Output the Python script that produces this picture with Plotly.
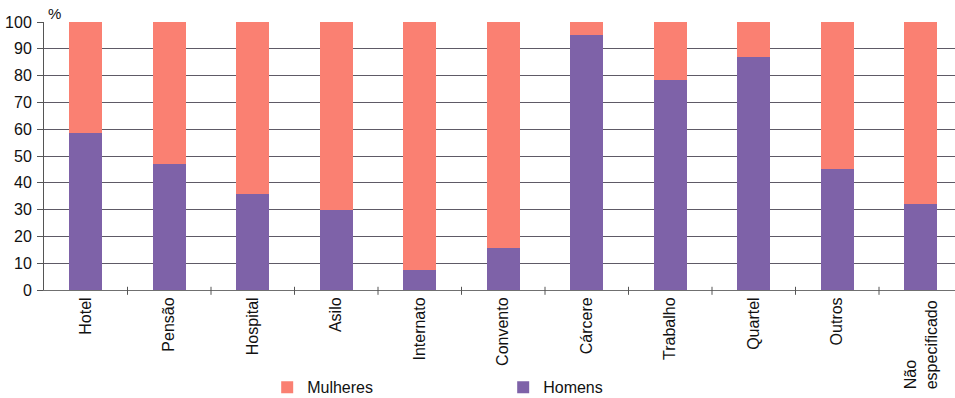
import plotly.graph_objects as go

# Categories and shares (%) of men and women by place of residence
categorias = ["Hotel", "Pensão", "Hospital", "Asilo", "Internato", "Convento",
              "Cárcere", "Trabalho", "Quartel", "Outros", "Não<br>especificado"]
homens = [58.5, 47, 36, 30, 7.5, 15.5, 95, 78.5, 87, 45, 32]
mulheres = [round(100 - h, 1) for h in homens]
y_ticks = [0, 10, 20, 30, 40, 50, 60, 70, 80, 90, 100]

COR_HOMENS = "#7E62A8"
COR_MULHERES = "#FA8072"
FONTE = "Arial, Liberation Sans, sans-serif"

fig = go.Figure()
fig.add_trace(go.Bar(x=list(range(len(categorias))), y=homens, name="Homens",
                     marker=dict(color=COR_HOMENS, line=dict(width=0)), width=0.39))
fig.add_trace(go.Bar(x=list(range(len(categorias))), y=mulheres, name="Mulheres",
                     marker=dict(color=COR_MULHERES, line=dict(width=0)), width=0.39))

# tick labels except the two-line one, which is drawn as an annotation
ticktext = [c if "<br>" not in c else "" for c in categorias]

fig.update_layout(
    barmode="stack",
    width=955, height=398,
    margin=dict(l=44, r=0, t=22, b=108),
    paper_bgcolor="white", plot_bgcolor="white",
    font=dict(family=FONTE, size=16, color="#111111"),
    showlegend=True,
    legend=dict(orientation="h", traceorder="reversed",
                x=0.245, xanchor="left", xref="paper",
                y=0.027, yanchor="middle", yref="container",
                entrywidth=191, font=dict(size=16), itemwidth=30),
    xaxis=dict(
        range=[-0.5, 10.41], automargin=False,
        tickmode="array", tickvals=list(range(len(categorias))), ticktext=ticktext,
        tickangle=-90, showgrid=False, zeroline=False,
        showline=True, linecolor="#707070", linewidth=1,
        ticks="", fixedrange=True,
    ),
    yaxis=dict(
        range=[0, 100], tickvals=y_ticks, automargin=False,
        showgrid=True, gridcolor="#5e5a66", gridwidth=1,
        zeroline=False, showline=True, linecolor="#555555", linewidth=1,
        ticks="outside", ticklen=6, tickcolor="#555555",
        ticklabelstandoff=2,
    ),
)

# separator ticks between categories on the x axis
for i in range(len(categorias)):
    b = i + 0.5
    fig.add_shape(type="line", xref="x", yref="paper", x0=b, x1=b, y0=-0.018, y1=0.012,
                  line=dict(color="#555555", width=1))

# two-line category label, aligned at its start
fig.add_annotation(x=len(categorias) - 1, xref="x", y=-0.03, yref="paper",
                   text=categorias[-1], textangle=-90, align="left",
                   xanchor="center", yanchor="top", showarrow=False,
                   font=dict(size=16))

# unit label above the y axis
fig.add_annotation(x=0, xref="paper", y=1, yref="paper", xshift=2, yshift=-2,
                   text="%", showarrow=False, xanchor="left", yanchor="bottom",
                   font=dict(size=15))

fig.write_html("out.html")
